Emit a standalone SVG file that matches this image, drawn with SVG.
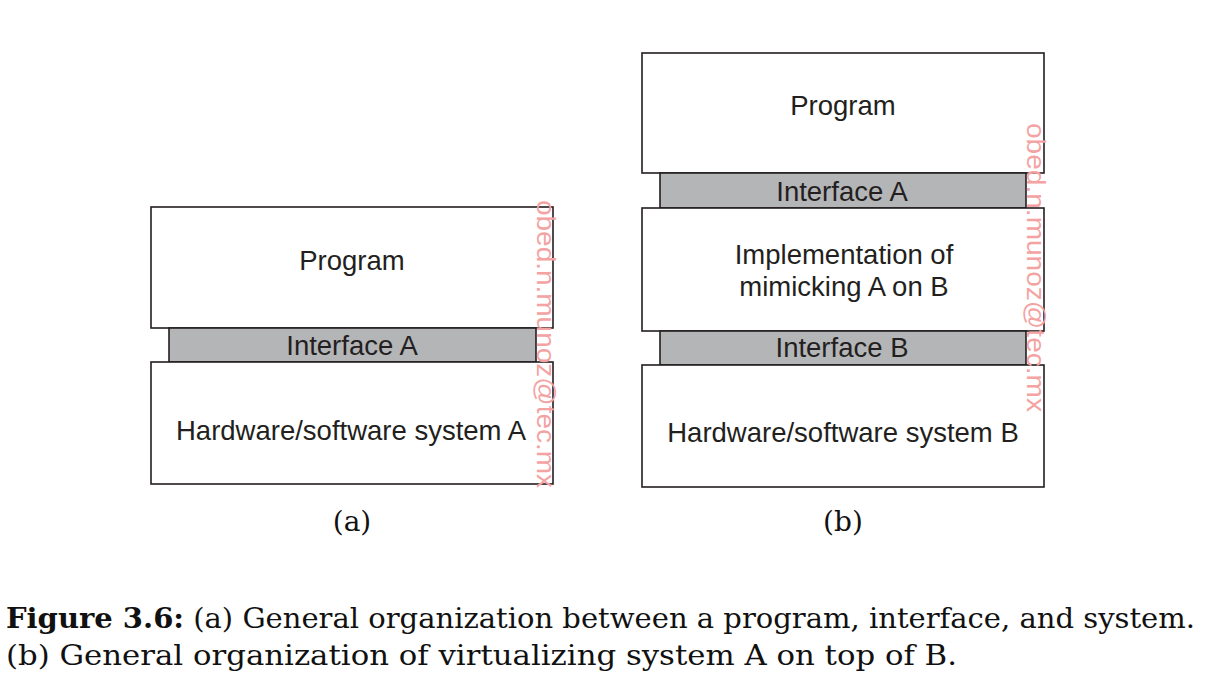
<svg xmlns="http://www.w3.org/2000/svg" width="1209" height="695" viewBox="0 0 1209 695">
<style>
.box{fill:#ffffff;stroke:#231f20;stroke-width:1.6}
.ifc{fill:#b4b5b7;stroke:#231f20;stroke-width:1.6}
.lbl{font-family:"Liberation Sans",Arial,sans-serif;font-size:27.5px;fill:#231f20;text-anchor:middle}
.sub{font-family:"DejaVu Serif","Liberation Serif",serif;font-size:28px;fill:#111;text-anchor:middle}
.cap{font-family:"DejaVu Serif","Liberation Serif",serif;font-size:28px;fill:#111}
.wm{font-family:"Liberation Sans",Arial,sans-serif;font-size:26px;fill:#f4a3a3}
</style>
<rect width="1209" height="695" fill="#ffffff"/>
<g id="connectors"></g>
<g id="a-program"><rect class="box" x="151" y="207" width="402" height="121"/><text class="lbl" x="352" y="270">Program</text></g>
<g id="a-interface"><rect class="ifc" x="169" y="328" width="367" height="34"/><text class="lbl" x="352" y="355">Interface A</text></g>
<g id="a-system"><rect class="box" x="151" y="362" width="402" height="122"/><text class="lbl" x="351" y="440">Hardware/software system A</text></g>
<g id="b-program"><rect class="box" x="642" y="53" width="402" height="120"/><text class="lbl" x="843" y="115">Program</text></g>
<g id="b-interfaceA"><rect class="ifc" x="660" y="173" width="366" height="35"/><text class="lbl" x="842" y="201">Interface A</text></g>
<g id="b-impl"><rect class="box" x="642" y="208" width="402" height="123"/><text class="lbl" x="844" y="264">Implementation of</text><text class="lbl" x="844" y="296">mimicking A on B</text></g>
<g id="b-interfaceB"><rect class="ifc" x="660" y="331" width="366" height="34"/><text class="lbl" x="842" y="357">Interface B</text></g>
<g id="b-system"><rect class="box" x="642" y="365" width="402" height="122"/><text class="lbl" x="843" y="442">Hardware/software system B</text></g>
<text class="wm" transform="translate(537,200) rotate(90)" textLength="288" lengthAdjust="spacingAndGlyphs">obed.n.munoz@tec.mx</text>
<text class="wm" transform="translate(1027,123) rotate(90)" textLength="289" lengthAdjust="spacingAndGlyphs">obed.n.munoz@tec.mx</text>
<text class="sub" x="352" y="531">(a)</text>
<text class="sub" x="843" y="531">(b)</text>
<text class="cap" x="6" y="628" textLength="1189" lengthAdjust="spacingAndGlyphs"><tspan font-weight="bold">Figure 3.6:</tspan> (a) General organization between a program, interface, and system.</text>
<text class="cap" x="6" y="665" textLength="951" lengthAdjust="spacingAndGlyphs">(b) General organization of virtualizing system A on top of B.</text>
</svg>
